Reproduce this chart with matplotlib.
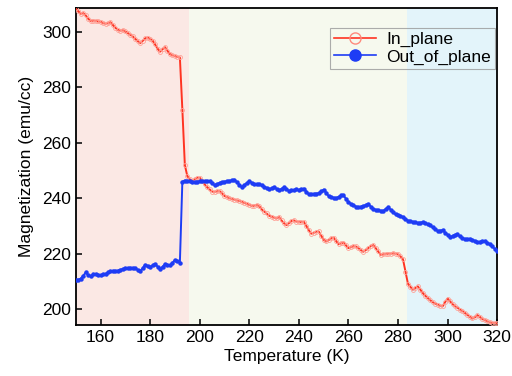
import numpy as np
import matplotlib
matplotlib.use("Agg")
import matplotlib.pyplot as plt

plt.rcParams['font.family'] = ['Liberation Sans', 'DejaVu Sans']

# temperature in K, 1 K steps
temp = np.arange(150, 321)

in_plane = [
    308.5, 307.5, 306.6, 306.8, 306.0, 304.8, 304.0, 304.1, 304.0, 303.8,
    303.7, 303.2, 303.0, 303.2, 303.5, 302.5, 301.5, 300.8, 300.5, 300.6,
    300.2, 299.6, 299.0, 298.4, 297.5, 296.7, 296.0, 296.8, 297.7, 298.0,
    297.5, 296.9, 295.5, 294.0, 292.9, 293.8, 294.5, 293.2, 292.0, 291.6,
    291.3, 291.0, 290.8, 272.0, 252.0, 248.0, 246.8, 246.4, 246.8, 247.4,
    247.4, 246.2, 245.0, 244.0, 243.2, 242.4, 242.3, 242.5, 242.6, 241.8,
    240.8, 240.4, 240.0, 239.7, 239.5, 239.2, 239.0, 238.7, 238.3, 238.0,
    237.6, 237.2, 237.3, 237.5, 237.2, 236.0, 235.2, 234.5, 233.7, 233.3,
    233.0, 232.7, 233.2, 232.0, 231.0, 230.3, 231.0, 231.8, 232.0, 231.6,
    231.5, 231.4, 231.5, 230.0, 228.5, 227.2, 227.5, 227.9, 228.0, 226.5,
    225.0, 224.4, 224.9, 225.5, 225.8, 224.6, 223.4, 223.7, 224.0, 223.0,
    222.0, 222.3, 222.7, 222.6, 222.0, 221.3, 220.7, 221.3, 222.0, 222.7,
    223.1, 222.0, 220.8, 219.6, 219.7, 219.9, 220.0, 220.0, 220.1, 220.0,
    219.8, 219.0, 218.0, 213.5, 209.2, 208.0, 207.0, 207.6, 208.2, 207.0,
    205.8, 204.8, 204.0, 203.2, 202.5, 202.0, 201.6, 201.2, 201.0, 202.5,
    203.8, 202.8, 201.8, 201.0, 200.5, 199.8, 199.3, 198.6, 197.9, 197.2,
    196.6, 197.0, 197.8, 197.2, 196.4, 196.0, 195.6, 195.2, 195.0, 195.0,
    194.9,
]

out_of_plane = [
    210.5, 210.6, 211.0, 212.0, 213.2, 212.3, 211.9, 212.5, 212.7, 212.4,
    212.2, 212.5, 212.8, 213.2, 213.6, 213.8, 213.8, 213.9, 214.2, 214.5,
    214.7, 214.8, 214.9, 214.9, 214.7, 214.2, 213.6, 214.8, 216.0, 215.6,
    215.2, 215.8, 216.3, 215.3, 214.4, 215.3, 216.2, 216.0, 215.8, 216.7,
    217.7, 217.2, 216.8, 246.0, 246.4, 246.3, 246.2, 246.0, 245.9, 246.0,
    246.1, 246.2, 246.2, 246.2, 246.2, 245.5, 244.7, 245.1, 245.6, 245.8,
    246.0, 246.2, 246.3, 246.5, 246.7, 245.8, 244.9, 244.0, 244.8, 245.5,
    246.2, 245.6, 245.0, 245.1, 245.2, 244.7, 244.2, 243.7, 243.2, 243.6,
    244.0, 243.4, 242.8, 243.4, 244.0, 243.3, 242.6, 242.8, 243.0, 243.2,
    243.0, 243.2, 243.5, 242.4, 241.4, 241.5, 241.6, 241.7, 241.8, 242.5,
    243.1, 242.0, 240.8, 240.5, 240.2, 240.0, 240.5, 241.0, 241.1, 239.8,
    238.6, 238.0, 237.5, 237.0, 236.8, 237.0, 237.2, 237.6, 238.0, 237.0,
    236.2, 235.8, 235.6, 235.5, 235.4, 236.1, 236.8, 235.9, 235.0, 234.2,
    233.9, 233.7, 233.2, 232.6, 231.9, 231.8, 231.5, 231.3, 231.1, 231.2,
    231.4, 231.0, 230.6, 230.2, 229.5, 228.8, 228.2, 228.3, 228.5, 227.6,
    226.8, 226.0, 226.4, 226.8, 227.0, 226.2, 225.5, 225.3, 225.3, 225.4,
    225.0, 224.6, 224.2, 224.3, 224.5, 224.6, 224.0, 223.4, 222.6, 221.8,
    221.0,
]

# shaded temperature regions
regions = [(150, 195.5), (195.5, 283.8), (283.8, 320)]
region_colors = ['#fbe8e4', '#f6f9ee', '#e3f4fa']

fig = plt.figure(figsize=(5.12, 3.76), dpi=100)
ax = fig.add_axes([0.148, 0.136, 0.823, 0.843])

for (a, b), c in zip(regions, region_colors):
    ax.axvspan(a, b, color=c, lw=0, zorder=0)

ax.plot(temp, in_plane, color='#ff3322', lw=1.4, marker='o', ms=2.8,
        mfc='none', mec='#ffa095', mew=0.6, label='In_plane', zorder=3)
ax.plot(temp, out_of_plane, color='#1e3cf5', lw=1.4, marker='o', ms=2.2,
        mfc='#1e3cf5', mec='#1e3cf5', label='Out_of_plane', zorder=3)

ax.set_xlim(150, 320)
ax.set_ylim(194.3, 308.7)
ax.set_xticks(np.arange(160, 321, 20))
ax.set_yticks(np.arange(200, 301, 20))
ax.tick_params(direction='in', length=4, labelsize=12.5, width=1.1)
ax.set_xlabel('Temperature (K)', fontsize=12.5, labelpad=3)
ax.set_ylabel('Magnetization (emu/cc)', fontsize=12.5, labelpad=6)
for s in ax.spines.values():
    s.set_linewidth(1.3)

# legend markers: open red circle, filled blue circle
h1, = ax.plot([], [], color='#ff3322', lw=1.2, marker='o', ms=8, mfc='none', mec='#ff8a7c')
h2, = ax.plot([], [], color='#1e3cf5', lw=1.2, marker='o', ms=8)
leg = ax.legend([h1, h2], ['In_plane', 'Out_of_plane'], loc='upper right',
                bbox_to_anchor=(0.995, 0.937), fontsize=12.5, frameon=True,
                fancybox=False, facecolor='none', edgecolor='#999999',
                handlelength=2.4, borderpad=0.25, labelspacing=0.1,
                handletextpad=0.6, borderaxespad=0)
leg.get_frame().set_linewidth(0.8)

fig.savefig('out.png', dpi=100)
